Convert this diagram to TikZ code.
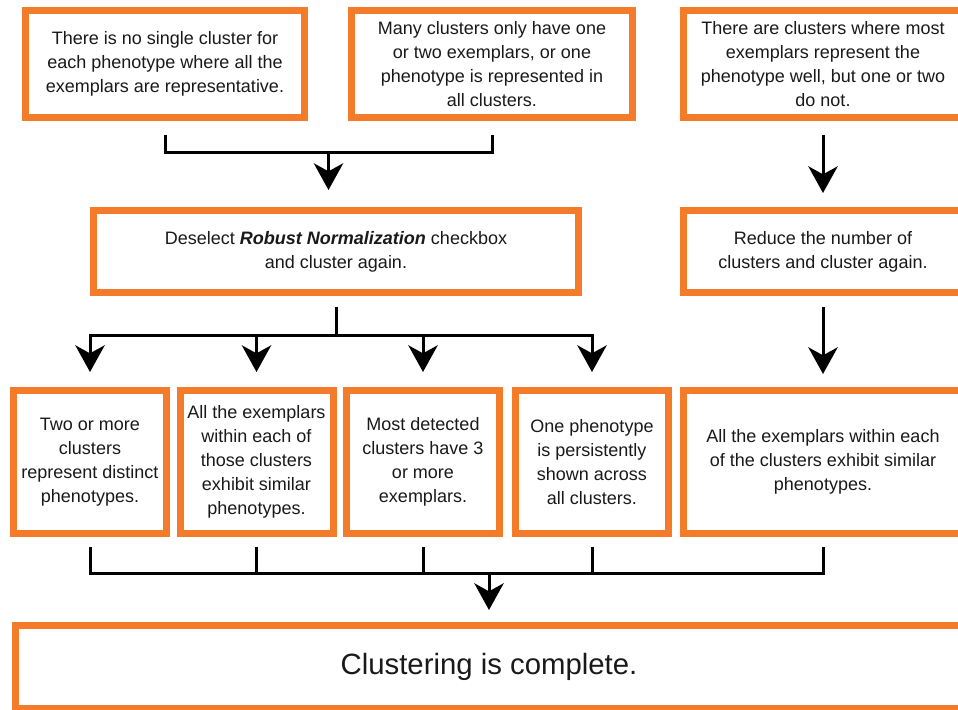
\documentclass[tikz,border=0pt]{standalone}
\usepackage{fontspec}
\setmainfont{Liberation Sans}
\usetikzlibrary{positioning, arrows.meta, calc}

\definecolor{boxOrange}{RGB}{244,123,42}
\tikzset{
  stepBox/.style={draw=boxOrange, line width=5.25pt, align=center, inner sep=1pt, text=black!90,
    font=\fontsize{13.5}{18}\selectfont},
  smallBox/.style={stepBox, minimum width=114.75pt, minimum height=107.25pt},
  flowLine/.style={line width=2.25pt},
  flowArrow/.style={flowLine, -{Stealth[length=20pt, width=22pt, inset=6pt]}},
}

\begin{document}
\begin{tikzpicture}[x=0.75pt, y=-0.75pt]
  \useasboundingbox (0,0) rectangle (958,710);

  \node[stepBox, minimum width=209.25pt, minimum height=80.25pt] (noSingle) at (165,64)
    {There is no single cluster for\\each phenotype where all the\\exemplars are representative.};
  \node[stepBox, minimum width=210.75pt, minimum height=80.25pt] (fewExemplars) at (492,64)
    {Many clusters only have one\\or two exemplars, or one\\phenotype is represented in\\all clusters.};
  \node[stepBox, minimum width=209.25pt, minimum height=80.25pt] (mostWell) at (823,64)
    {There are clusters where most\\exemplars represent the\\phenotype well, but one or two\\do not.};

  \node[stepBox, minimum width=363.75pt, minimum height=61.5pt] (deselect) at (336,251.5)
    {Deselect \textbf{\textit{Robust Normalization}} checkbox\\and cluster again.};
  \node[stepBox, minimum width=209.25pt, minimum height=61.5pt] (reduce) at (823,251.5)
    {Reduce the number of\\clusters and cluster again.};

  \node[smallBox] (twoOrMore) at (90,462)
    {Two or more\\clusters\\represent distinct\\phenotypes.};
  \node[smallBox] (allSimilar) at (256.5,462)
    {All the exemplars\\within each of\\those clusters\\exhibit similar\\phenotypes.};
  \node[smallBox] (mostDetected) at (423,462)
    {Most detected\\clusters have 3\\or more\\exemplars.};
  \node[smallBox] (oneShown) at (592,462)
    {One phenotype\\is persistently\\shown across\\all clusters.};
  \node[stepBox, minimum width=209.25pt, minimum height=107.25pt] (allWithin) at (823,462)
    {All the exemplars within each\\of the clusters exhibit similar\\phenotypes.};

  \node[stepBox, minimum width=710.25pt, minimum height=62.25pt, font=\fontsize{22}{24}\selectfont] (done) at (489,667)
    {Clustering is complete.};

  \coordinate (topJoin) at ($(noSingle.south)!0.5!(fewExemplars.south)+(0,32)$);
  \draw[flowLine] ($(noSingle.south)+(0,14)$) -- ++(0,18) -| ($(fewExemplars.south)+(0,14)$);
  \draw[flowArrow] (topJoin) -- ($(topJoin |- deselect.north)+(0,-17)$);
  \draw[flowArrow] ($(mostWell.south)+(0,14)$) -- ($(reduce.north)+(0,-14)$);

  \draw[flowLine] ($(deselect.south)+(0,11)$) -- ++(0,28) coordinate (midJoin);
  \draw[flowArrow] (midJoin) -| ($(twoOrMore.north)+(0,-15)$);
  \draw[flowArrow] (midJoin) -| ($(oneShown.north)+(0,-15)$);
  \foreach \nodeName in {allSimilar, mostDetected}
    \draw[flowArrow] (midJoin -| \nodeName) -- ($(\nodeName.north)+(0,-15)$);
  \draw[flowArrow] ($(reduce.south)+(0,11)$) -- ($(allWithin.north)+(0,-13)$);

  \coordinate (botJoin) at ($(twoOrMore.south)+(0,36)$);
  \draw[flowLine] ($(twoOrMore.south)+(0,10)$) -- (botJoin) -| ($(allWithin.south)+(0,10)$);
  \foreach \nodeName in {allSimilar, mostDetected, oneShown}
    \draw[flowLine] ($(\nodeName.south)+(0,10)$) -- (botJoin -| \nodeName);
  \draw[flowArrow] (botJoin -| done) -- ($(done.north)+(0,-12)$);
\end{tikzpicture}
\end{document}
